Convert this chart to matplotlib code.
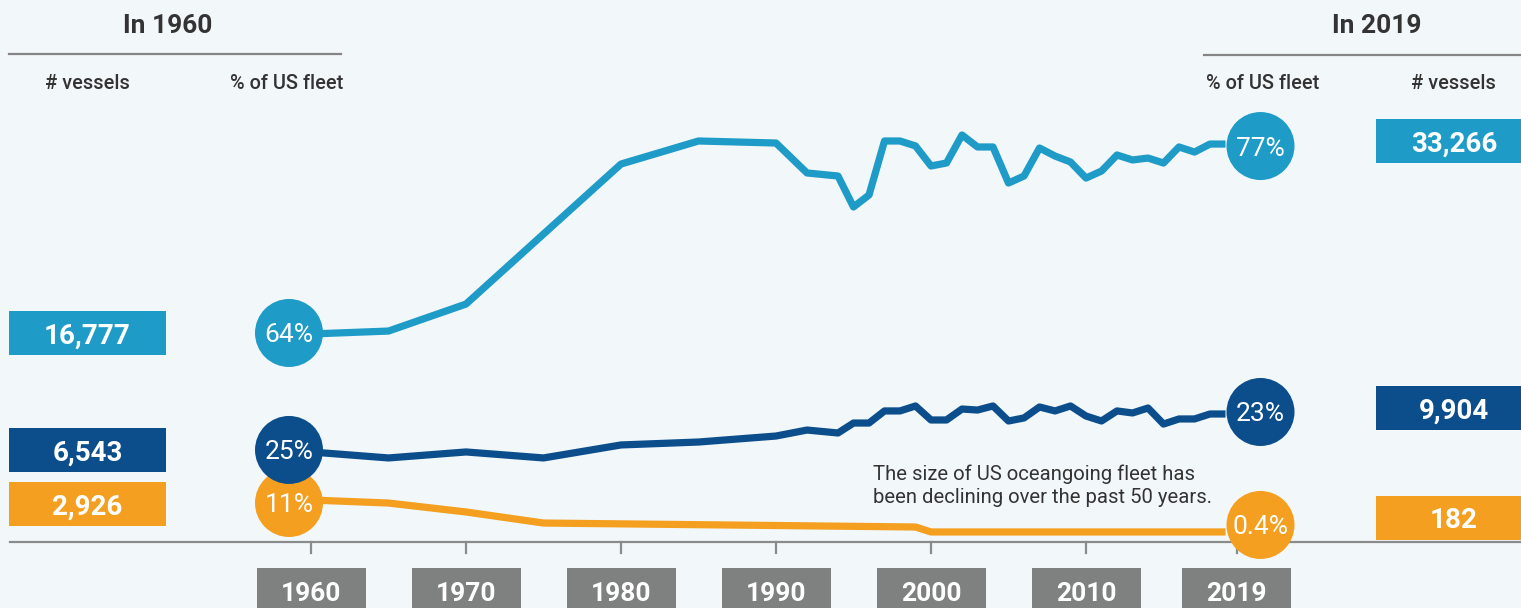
import matplotlib
matplotlib.use("Agg")
import matplotlib.pyplot as plt
from matplotlib.patches import Rectangle, Circle
from matplotlib.transforms import IdentityTransform

# ---------------- data (vessel counts) ----------------
years_light = [1960, 1965, 1970, 1980, 1985, 1990, 1992, 1994] + list(range(1995, 2020))
vessels_light = [17700, 17960, 20350, 32740, 34780, 34600, 31950, 31680,
                 28940, 30000, 34780, 34780, 34340, 32570, 32830, 35310, 34250,
                 34250, 31060, 31680, 34160, 33450, 32920, 31500, 32120, 33540,
                 33100, 33270, 32830, 34250, 33800, 34510, 34510]

years_dark = [1960, 1965, 1970, 1975, 1980, 1985, 1990, 1992, 1994] + list(range(1995, 2020))
vessels_dark = [7260, 6730, 7260, 6730, 7880, 8140, 8670, 9200, 8940,
                9820, 9820, 10890, 10890, 11330, 10090, 10090, 11060, 10970,
                11330, 10000, 10270, 11240, 10890, 11330, 10440, 10000, 10890,
                10710, 11150, 9730, 10180, 10180, 10620, 10620]

years_orange = [1960, 1965, 1970, 1975, 1999, 2000, 2019]
vessels_orange = [3010, 2740, 1950, 970, 620, 180, 180]

share_1960 = ["64%", "25%", "11%"]
share_2019 = ["77%", "23%", "0.4%"]
count_1960 = ["16,777", "6,543", "2,926"]
count_2019 = ["33,266", "9,904", "182"]

tick_years = [1960, 1970, 1980, 1990, 2000, 2010, 2019]
tick_labels = ["1960", "1970", "1980", "1990", "2000", "2010", "2019"]

# ---------------- style ----------------
BG = "#F2F7FA"
C_LIGHT = "#1E9BC6"
C_DARK = "#0C4E8B"
C_ORANGE = "#F49F1F"
C_GRAY = "#7F8080"
C_TEXT = "#333333"
FONT = "Roboto"

W, H = 1521, 608
DPI = 100
# pixel mapping of the data space
X0_PX, PX_PER_YEAR = 311.0, 15.5
Y0_PX, PX_PER_VESSEL = 534.0, 0.0113


def xpx(year):
    return X0_PX + (year - 1960) * PX_PER_YEAR


def ypx(v):
    return Y0_PX - v * PX_PER_VESSEL


fig = plt.figure(figsize=(W / DPI, H / DPI), dpi=DPI, facecolor=BG)
ax = fig.add_axes([0, 0, 1, 1])
ax.set_facecolor(BG)
ax.set_xlim(1960 - X0_PX / PX_PER_YEAR, 1960 + (W - X0_PX) / PX_PER_YEAR)
ax.set_ylim((Y0_PX - H) / PX_PER_VESSEL, Y0_PX / PX_PER_VESSEL)
ax.axis("off")

ident = IdentityTransform()


def disp(px, py):
    return px, H - py


def ftext(px, py, s, **kw):
    fig.text(px / W, 1 - py / H, s, fontfamily=FONT, **kw)


# ---------------- lines ----------------
series = [
    (years_orange, vessels_orange, C_ORANGE),
    (years_dark, vessels_dark, C_DARK),
    (years_light, vessels_light, C_LIGHT),
]
for yrs, vals, col in series:
    ax.plot(yrs, vals, color=col, lw=5.2, solid_joinstyle="round",
            solid_capstyle="butt", zorder=3)

# ---------------- x axis ----------------
AXIS_Y = 542
ax.add_line(plt.Line2D([10, W], [H - AXIS_Y, H - AXIS_Y], transform=ident,
                       color="#8A8B8B", lw=1.6, zorder=2))
for i, (yr, lab) in enumerate(zip(tick_years, tick_labels)):
    tx = xpx(yr) + (11 if i == len(tick_years) - 1 else 0)
    ax.add_line(plt.Line2D([tx, tx], [H - AXIS_Y, H - 553], transform=ident,
                           color="#8A8B8B", lw=1.6, zorder=2))
    ax.add_patch(Rectangle(disp(tx - 54.5, 608), 109, 40, transform=ident,
                           facecolor=C_GRAY, edgecolor="none", zorder=2))
    ftext(tx, 601, lab, color="white", fontsize=19, fontweight="bold",
          ha="center", va="baseline")

# ---------------- headers ----------------
ax.add_line(plt.Line2D([9, 341], [H - 54, H - 54], transform=ident,
                       color="#858585", lw=1.6))
ax.add_line(plt.Line2D([1204, W], [H - 55, H - 55], transform=ident,
                       color="#858585", lw=1.6))
ftext(168, 33, "In 1960", color=C_TEXT, fontsize=19, fontweight="bold",
      ha="center", va="baseline")
ftext(1377, 33, "In 2019", color=C_TEXT, fontsize=19, fontweight="bold",
      ha="center", va="baseline")
ftext(87, 89, "# vessels", color=C_TEXT, fontsize=14.3, fontweight="medium",
      ha="center", va="baseline")
ftext(287, 89, "% of US fleet", color=C_TEXT, fontsize=14.3, fontweight="medium",
      ha="center", va="baseline")
ftext(1263, 89, "% of US fleet", color=C_TEXT, fontsize=14.3, fontweight="medium",
      ha="center", va="baseline")
ftext(1453, 89, "# vessels", color=C_TEXT, fontsize=14.3, fontweight="medium",
      ha="center", va="baseline")

# ---------------- circles and value boxes ----------------
colors = [C_LIGHT, C_DARK, C_ORANGE]
firsts = [vessels_light[0], vessels_dark[0], vessels_orange[0]]
lasts = [vessels_light[-1], vessels_dark[-1], vessels_orange[-1]]
circ_dy_left = [-1, -2, 3]
circ_dy_right = [2, -2, -7]
box_dy_left = [-1, -2, 4]
box_dy_right = [-3, -6, -14]
R = 34

# draw order: orange, dark, light (dark circle over orange one)
for i in [2, 1, 0]:
    col = colors[i]
    # left circle
    cy = ypx(firsts[i]) + circ_dy_left[i]
    cx = xpx(1960) - 22
    ax.add_patch(Circle(disp(cx, cy), R, transform=ident, facecolor=col,
                        edgecolor="none", zorder=5))
    ftext(cx, cy + 9.5, share_1960[i], color="white", fontsize=19,
          ha="center", va="baseline", zorder=6)
    # right circle
    cy = ypx(lasts[i]) + circ_dy_right[i]
    cx = xpx(2019) + 35
    ax.add_patch(Circle(disp(cx, cy), R, transform=ident, facecolor=col,
                        edgecolor="none", zorder=5))
    ftext(cx, cy + 9.5, share_2019[i], color="white", fontsize=19,
          ha="center", va="baseline", zorder=6)
    # left box
    by = ypx(firsts[i]) + box_dy_left[i]
    ax.add_patch(Rectangle(disp(9, by + 22), 157, 44, transform=ident,
                           facecolor=col, edgecolor="none", zorder=5))
    ftext(87.5, by + 10.5, count_1960[i], color="white", fontsize=20,
          fontweight="bold", ha="center", va="baseline", zorder=6)
    # right box
    by = ypx(lasts[i]) + box_dy_right[i]
    ax.add_patch(Rectangle(disp(1376, by + 22), W - 1376, 44, transform=ident,
                           facecolor=col, edgecolor="none", zorder=5))
    ftext(1454, by + 10.5, count_2019[i], color="white", fontsize=20,
          fontweight="bold", ha="center", va="baseline", zorder=6)

# ---------------- annotation ----------------
ftext(873, 480, "The size of US oceangoing fleet has", color=C_TEXT,
      fontsize=14.6, ha="left", va="baseline")
ftext(873, 503, "been declining over the past 50 years.", color=C_TEXT,
      fontsize=14.6, ha="left", va="baseline")

fig.savefig("out.png", dpi=DPI, facecolor=BG)
